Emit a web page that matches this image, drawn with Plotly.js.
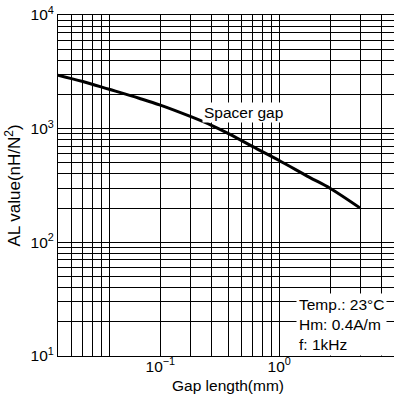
<!DOCTYPE html>
<html>
<head>
<meta charset="utf-8">
<script src="https://cdn.plot.ly/plotly-3.0.1.min.js"></script>
<style>
html,body{margin:0;padding:0;overflow:hidden;background:#fff;width:394px;height:394px;}
#chart{width:400px;height:394px;}
</style>
</head>
<body>
<div id="chart"></div>
<script>
// Gap length (mm) as placed on the drawn log grid, and AL value (nH/N^2)
const gapLength = [0.05, 0.07, 0.1, 0.15, 0.2, 0.3, 0.4, 0.5, 0.7, 1.0, 1.5, 2.0, 3.0];
const alValue   = [2960, 2600, 2220, 1850, 1610, 1280, 1070, 910, 695, 525, 375, 298, 200];

// x grid lines and tick labels (as printed on the reference)
const xGridVals = [0.05,0.06,0.07,0.08,0.09,0.1,0.2,0.3,0.4,0.5,0.6,0.7,0.8,0.9,1,2,3,4,5];
const xLabelVals = [0.2, 1];
const xLabelText = ["10<sup>\u22121</sup>", "10<sup>0</sup>"];

// y grid lines and tick labels
const yGridVals = [10,20,30,40,50,60,70,80,90,100,200,300,400,500,600,700,800,900,
                   1000,2000,3000,4000,5000,6000,7000,8000,9000,10000];
const yDecades = [10, 100, 1000, 10000];
const yDecadeText = ["10<sup>1</sup>", "10<sup>2</sup>", "10<sup>3</sup>", "10<sup>4</sup>"];

const seriesName = "Spacer gap";
const conditions = ["Temp.: 23°C", "Hm: 0.4A/m", "f: 1kHz"];
const xTitle = "Gap length(mm)";
const yTitle = "AL value(nH/N<sup>2</sup>)";

const font = "Liberation Sans, Arial, sans-serif";
const grid = {showgrid: true, gridcolor: "#000", gridwidth: 1, ticks: ""};

Plotly.newPlot("chart", [{
  x: gapLength, y: alValue, type: "scatter", mode: "lines",
  line: {color: "#000", width: 3, shape: "spline", smoothing: 1},
  name: seriesName, showlegend: false, hoverinfo: "skip"
}], {
  width: 400, height: 394,
  margin: {l: 58, r: 2, t: 15, b: 38, pad: 0},
  paper_bgcolor: "#fff", plot_bgcolor: "#fff",
  font: {family: font, size: 15.5, color: "#000"},
  showlegend: false,
  xaxis: {
    type: "log", range: [Math.log10(0.05), Math.log10(5)],
    tickmode: "array", tickvals: xLabelVals, ticktext: xLabelText,
    minor: Object.assign({tickmode: "array", tickvals: xGridVals}, grid),
    showgrid: true, gridcolor: "#000", gridwidth: 1,
    showline: true, linecolor: "#000", linewidth: 1, mirror: true,
    ticks: "", zeroline: false, automargin: false, ticklabelstandoff: -4,
    tickfont: {family: font, size: 15.5, color: "#000"},
    title: {text: xTitle, font: {family: font, size: 15.5, color: "#000"}, standoff: 6}
  },
  yaxis: {
    type: "log", range: [1, 4],
    tickmode: "array", tickvals: yDecades, ticktext: yDecadeText,
    minor: Object.assign({tickmode: "array", tickvals: yGridVals}, grid),
    showgrid: true, gridcolor: "#000", gridwidth: 1,
    showline: true, linecolor: "#000", linewidth: 1, mirror: true,
    ticks: "", zeroline: false, automargin: false,
    tickfont: {family: font, size: 15.5, color: "#000"},
    title: {text: yTitle, font: {family: font, size: 17, color: "#000"}, standoff: 5}
  },
  annotations: [
    {xref: "paper", yref: "paper", x: 0.4235, y: 0.715, xanchor: "left", yanchor: "middle",
     text: seriesName, showarrow: false, bgcolor: "#fff", borderpad: 1,
     font: {family: font, size: 15.5, color: "#000"}},
    {xref: "paper", yref: "paper", x: 0.70, y: 0.184, xanchor: "left", yanchor: "top",
     text: conditions.join("<br>"), align: "left", showarrow: false, bgcolor: "#fff", borderpad: 2,
     font: {family: font, size: 15.5, color: "#000"}}
  ]
}, {displayModeBar: false, staticPlot: true});
</script>
</body>
</html>
